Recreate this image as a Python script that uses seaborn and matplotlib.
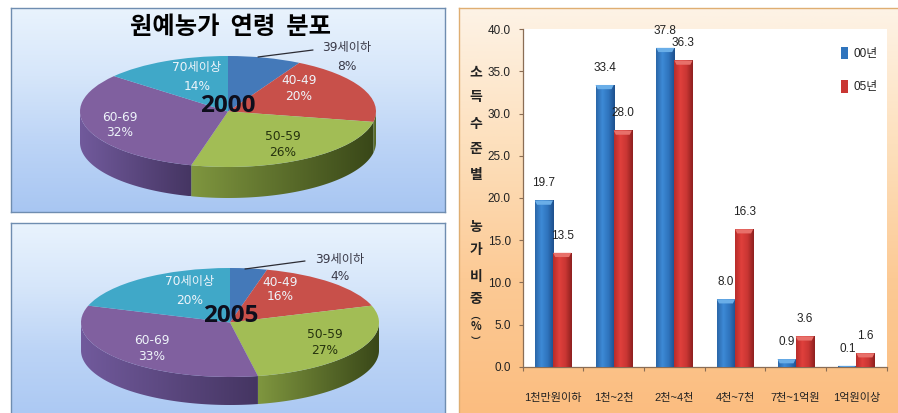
import numpy as np
import pandas as pd
import matplotlib
matplotlib.use("Agg")
import matplotlib.pyplot as plt
import seaborn as sns
from matplotlib.colors import LinearSegmentedColormap as LSC
from matplotlib.patches import Patch, Polygon

# ---- data ----
age_groups = ["39세이하", "40-49", "50-59", "60-69", "70세이상"]
share_2000 = [8, 20, 26, 32, 14]
share_2005 = [4, 16, 27, 33, 20]
income_levels = ["1천만원이하", "1천~2천", "2천~4천", "4천~7천", "7천~1억원", "1억원이상"]
farms_00 = [19.7, 33.4, 37.8, 8.0, 0.9, 0.1]
farms_05 = [13.5, 28.0, 36.3, 16.3, 3.6, 1.6]
series_names = ["00년", "05년"]
title_text = "원예농가  연령  분포"

W, H = 898, 413
sns.set_theme(style="white")
KR = "Noto Sans CJK KR"
NARROW = ["Liberation Sans", KR]
plt.rcParams["font.family"] = ["DejaVu Sans", KR]

fig = plt.figure(figsize=(W / 100, H / 100), dpi=100, facecolor="white")


def px_axes(x0, y0, x1, y1, **kw):
    return fig.add_axes([x0 / W, 1 - y1 / H, (x1 - x0) / W, (y1 - y0) / H], **kw)


def panel(x0, y0, x1, y1, colors, edge, hide_bottom=False):
    ax = px_axes(x0, y0, x1, y1)
    cmap = LSC.from_list("bg", colors)
    ax.imshow(np.linspace(0, 1, 256)[:, None], cmap=cmap, aspect="auto", extent=(0, 1, 0, 1))
    ax.set_xticks([]); ax.set_yticks([])
    for s in ax.spines.values():
        s.set_color(edge); s.set_linewidth(1.0)
    if hide_bottom:
        ax.spines["bottom"].set_visible(False)
    return ax


def ptext(x, y, s, **kw):
    kw.setdefault("ha", "center"); kw.setdefault("va", "center")
    return fig.text(x / W, 1 - y / H, s, **kw)


BLUES = ["#e9f3fd", "#d6e6fa", "#bcd4f6", "#a8c6f2"]
panel(11, 8, 445, 212, BLUES, "#6f8db0")
panel(11, 223, 445, 414, BLUES[:3] + ["#acc9f3"], "#6f8db0", hide_bottom=True)
panel(459, 8, 899, 414, ["#fdf3e6", "#fde0bd", "#fcca95", "#fbbd80"], "#dfae72", hide_bottom=True)

TOP_COLORS = ["#4479b9", "#c8504a", "#a2bd55", "#80609f", "#40a8c8"]
SIDE_CMAPS = [("#3a6298", "#2f5080"), ("#6f7f38", "#4f6224"), ("#7f963f", "#394718"),
              ("#715a9c", "#453562"), ("#3a8aa5", "#2f7890")]


def draw_pie(values, cx, cy, rx, ry, depth):
    ax = px_axes(11, 8, 445, 413)
    ax.patch.set_alpha(0)
    ax.axis("off")
    xlim = ((11 - cx) / rx, (445 - cx) / rx)
    ylim = ((cy - 413) / ry, (cy - 8) / ry)
    d = depth / ry
    edges = np.cumsum([0] + list(values)) / sum(values) * 2 * np.pi
    for i in range(len(values)):
        a, b = max(edges[i], np.pi / 2), min(edges[i + 1], 3 * np.pi / 2)
        if b <= a:
            continue
        t = np.linspace(a, b, 80)
        xs, ys = np.sin(t), np.cos(t)
        poly = Polygon(np.r_[np.c_[xs, ys], np.c_[xs, ys - d][::-1]], closed=True,
                       transform=ax.transData, fc="none", ec="none")
        ax.add_patch(poly)
        im = ax.imshow(np.linspace(0, 1, 128)[None, :],
                       cmap=LSC.from_list("s", SIDE_CMAPS[i]), aspect="auto",
                       extent=(xs.min(), xs.max(), ys.min() - d, ys.max()), zorder=1)
        im.set_clip_path(poly)
    ax.pie(values, colors=TOP_COLORS, startangle=90, counterclock=False, radius=1,
           wedgeprops={"linewidth": 0})
    for w in ax.patches:
        w.set_zorder(2)
    ax.set_aspect("auto")
    ax.set_xlim(*xlim); ax.set_ylim(*ylim)
    ax.set_frame_on(False)
    return ax


draw_pie(share_2000, 228, 111.5, 148, 55.5, 31)
draw_pie(share_2005, 230, 322.5, 149, 54.5, 28)

ptext(230, 27, title_text, fontsize=17.5, fontweight="bold", family=KR, color="black")

LIGHT, DARK, GREY = "#eef4fa", "#26330e", "#3a3a48"
FS = 8.8
layout_2000 = [(347, 47, 66, GREY), (299, 81, 97, LIGHT), (283, 137, 153, DARK), (120, 117, 133, LIGHT), (197, 68, 87, LIGHT)]
layout_2005 = [(340, 259, 277, GREY), (280, 282, 297, LIGHT), (325, 335, 350, DARK), (152, 341, 357, LIGHT), (190, 282, 301, LIGHT)]
for vals, lay in ((share_2000, layout_2000), (share_2005, layout_2005)):
    for name, v, (x, y1, y2, c) in zip(age_groups, vals, lay):
        ptext(x, y1, name, fontsize=FS, color=c)
        ptext(x, y2, f"{v}%", fontsize=FS, color=c)

ptext(228, 106, "2000", fontsize=17.5, color="#0e0e1c", fontweight="bold", family="Open Sans")
ptext(231, 316, "2005", fontsize=17.5, color="#0e0e1c", fontweight="bold", family="Open Sans")
for (x0, y0, x1, y1) in ((258, 57, 313, 50), (245, 269, 305, 261)):
    fig.add_artist(plt.Line2D([x0 / W, x1 / W], [1 - y0 / H, 1 - y1 / H], color="#2c2c34", lw=0.9))

# ---- bars ----
df = pd.DataFrame({
    "income": income_levels * 2,
    "share": farms_00 + farms_05,
    "year": [series_names[0]] * 6 + [series_names[1]] * 6,
})
BAR_BLUE, BAR_RED = "#2f74bd", "#c93633"
ax = px_axes(522.7, 29.3, 886.7, 366.7)
sns.barplot(data=df, x="income", y="share", hue="year", palette=[BAR_BLUE, BAR_RED],
            width=0.6, gap=0, saturation=1, legend=False, ax=ax, zorder=2)
ax.set_xlim(-0.5, 5.5); ax.set_ylim(0, 40)
ax.set_xlabel(""); ax.set_ylabel("")

grad = [LSC.from_list("b", ["#2a66a8", "#3d8ad6", "#2f74bd", "#1d4f8c"]),
        LSC.from_list("r", ["#b82c2a", "#e0403c", "#c93633", "#8e201f"])]
caps = ["#6aaee8", "#e8706a"]
for cont, cmap, cap in zip(ax.containers, grad, caps):
    for p in cont:
        x, y, w, h = p.get_x(), p.get_y(), p.get_width(), p.get_height()
        ax.imshow(np.linspace(0, 1, 64)[None, :], cmap=cmap, aspect="auto",
                  extent=(x, x + w, y, y + h), zorder=3)
        ch = min(0.5, h)
        ax.add_patch(Polygon([(x, y + h), (x + w, y + h), (x + w * 0.88, y + h - ch), (x + w * 0.12, y + h - ch)],
                             closed=True, fc=cap, ec="none", zorder=4))
    ax.bar_label(cont, fmt="%.1f", padding=8, fontsize=8.5, family=NARROW, color="#222222", zorder=5)
ax.set_xlim(-0.5, 5.5); ax.set_ylim(0, 40)

for s in ("top", "right"):
    ax.spines[s].set_visible(False)
for s in ("left", "bottom"):
    ax.spines[s].set_color("#8a6d55"); ax.spines[s].set_linewidth(0.9)
ax.set_yticks(np.arange(0, 40.1, 5))
ax.set_yticklabels([f"{v:.1f}" for v in np.arange(0, 40.1, 5)], fontsize=8.5, family=NARROW, color="#222222")
ax.tick_params(axis="y", length=3, width=0.8, color="#8a6d55", pad=5.5, left=True)
ax.set_xticks(np.arange(-0.5, 5.6, 1), minor=True)
ax.tick_params(axis="x", which="minor", length=3, width=0.8, color="#8a6d55", bottom=True)
ax.set_xticks(range(6))
ax.set_xticklabels(income_levels, fontsize=8, family=NARROW, color="#222222")
ax.tick_params(axis="x", which="major", length=0, pad=19)

handles = [Patch(facecolor=BAR_BLUE, edgecolor="none"), Patch(facecolor=BAR_RED, edgecolor="none")]
leg = ax.legend(handles, series_names, loc="upper right", frameon=False, fontsize=8.5,
                handlelength=0.6, handleheight=1.25, handletextpad=0.5, labelspacing=1.7,
                bbox_to_anchor=(0.976, 0.948), borderpad=0, borderaxespad=0)
for t in leg.get_texts():
    t.set_family(NARROW); t.set_color("#222222")

# stacked vertical axis caption
caption = ["소", "득", "수", "준", "별", "농", "가", "비", "중", "︵", "%", "︶"]
caption_y = [72, 97, 124, 149, 175, 227, 250, 277, 299, 315, 327, 341]
caption_size = [10] * 9 + [7, 8, 7]
for ch, y, fs in zip(caption, caption_y, caption_size):
    ptext(476, y, ch, fontsize=fs, family=KR, fontweight="bold", color="#222222")

fig.savefig("out.png", dpi=100)
